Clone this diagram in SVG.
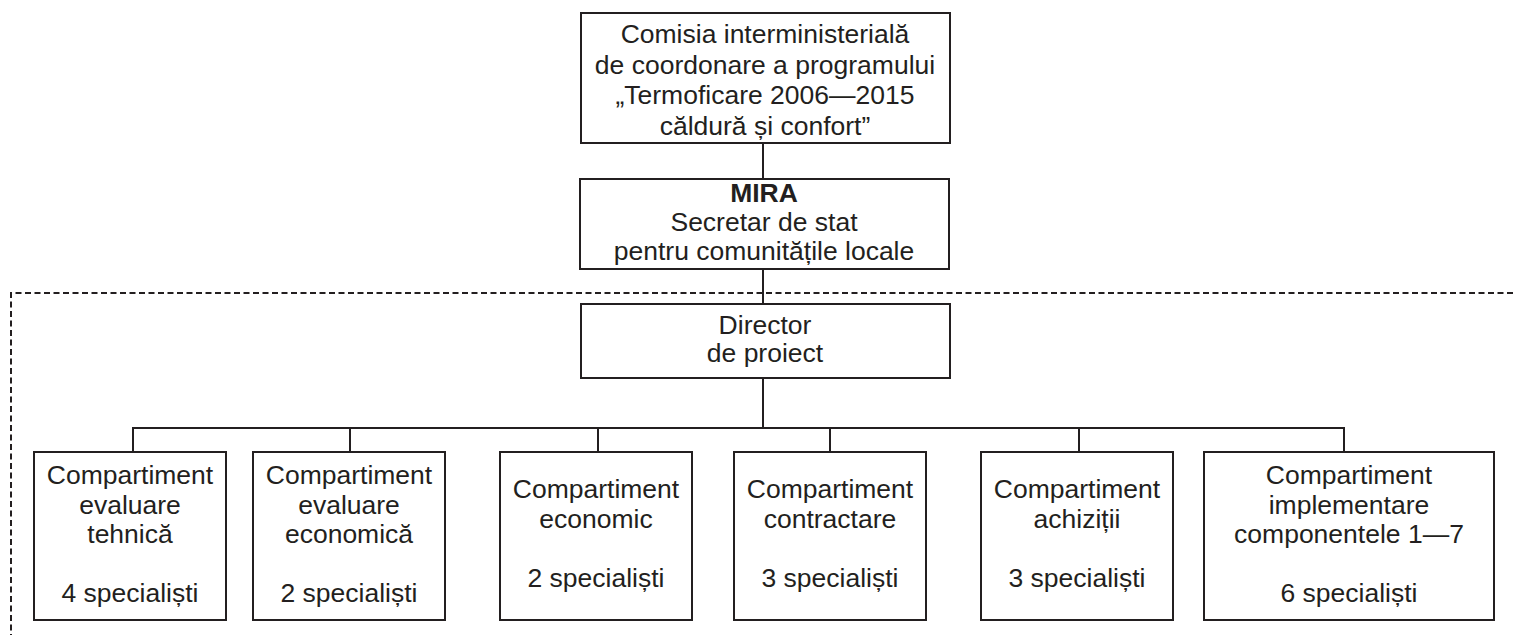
<svg xmlns="http://www.w3.org/2000/svg" width="1516" height="635" viewBox="0 0 1516 635">
<style>
.box{fill:#fff;stroke:#231f20;stroke-width:2}
.ln{fill:none;stroke:#231f20;stroke-width:2}
.dash{fill:none;stroke:#231f20;stroke-width:2;stroke-dasharray:6 3.5}
text{font-family:"Liberation Sans",Arial,sans-serif;font-size:26.5px;fill:#231f20;text-anchor:middle}
.b{font-weight:bold}
</style>
<rect width="1516" height="635" fill="#fff"/>
<g id="boundary">
<path class="dash" d="M1513 293 H11 V635"/>
</g>
<g id="connectors">
<path class="ln" d="M763 143 V179"/>
<path class="ln" d="M763 269 V304"/>
<path class="ln" d="M763 378 V428"/>
<path class="ln" d="M133 452 V428 H1344 V452"/>
<path class="ln" d="M350 428 V452"/>
<path class="ln" d="M598 428 V452"/>
<path class="ln" d="M830 428 V452"/>
<path class="ln" d="M1079 428 V452"/>
</g>
<g id="comisia">
<rect class="box" x="581" y="13" width="369" height="130"/>
<text x="765" y="43">Comisia interministerială</text>
<text x="765" y="73.5">de coordonare a programului</text>
<text x="765" y="104">„Termoficare 2006—2015</text>
<text x="765" y="134.5">căldură și confort”</text>
</g>
<g id="mira">
<rect class="box" x="580" y="179" width="369" height="90"/>
<text class="b" x="764" y="202">MIRA</text>
<text x="764" y="231">Secretar de stat</text>
<text x="764" y="260">pentru comunitățile locale</text>
</g>
<g id="director">
<rect class="box" x="581" y="304" width="369" height="74"/>
<text x="765" y="334">Director</text>
<text x="765" y="362">de proiect</text>
</g>
<g id="comp-tehnica">
<rect class="box" x="34" y="452" width="192" height="168"/>
<text x="130" y="484">Compartiment</text>
<text x="130" y="514">evaluare</text>
<text x="130" y="543">tehnică</text>
<text x="130" y="602">4 specialiști</text>
</g>
<g id="comp-economica">
<rect class="box" x="253" y="452" width="192" height="168"/>
<text x="349" y="484">Compartiment</text>
<text x="349" y="514">evaluare</text>
<text x="349" y="543">economică</text>
<text x="349" y="602">2 specialiști</text>
</g>
<g id="comp-economic">
<rect class="box" x="500" y="452" width="192" height="168"/>
<text x="596" y="498">Compartiment</text>
<text x="596" y="528">economic</text>
<text x="596" y="587">2 specialiști</text>
</g>
<g id="comp-contractare">
<rect class="box" x="734" y="452" width="192" height="168"/>
<text x="830" y="498">Compartiment</text>
<text x="830" y="528">contractare</text>
<text x="830" y="587">3 specialiști</text>
</g>
<g id="comp-achizitii">
<rect class="box" x="981" y="452" width="192" height="168"/>
<text x="1077" y="498">Compartiment</text>
<text x="1077" y="528">achiziții</text>
<text x="1077" y="587">3 specialiști</text>
</g>
<g id="comp-implementare">
<rect class="box" x="1204" y="452" width="290" height="168"/>
<text x="1349" y="484">Compartiment</text>
<text x="1349" y="514">implementare</text>
<text x="1349" y="543">componentele 1—7</text>
<text x="1349" y="602">6 specialiști</text>
</g>
</svg>
